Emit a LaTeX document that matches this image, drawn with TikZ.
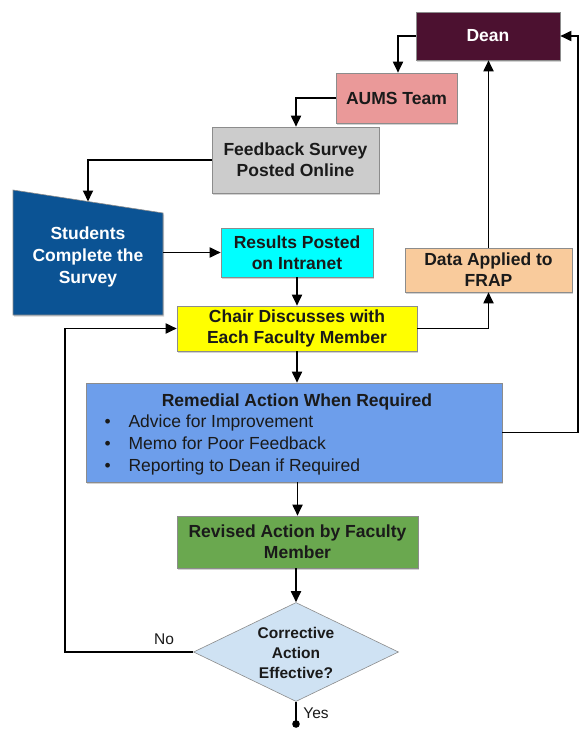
\documentclass[tikz,border=0pt]{standalone}
\usepackage{fontspec}
\setmainfont{Liberation Sans}
\usetikzlibrary{shapes.geometric,arrows.meta,shadows}

\definecolor{deanc}{HTML}{4C1130}
\definecolor{aumsc}{HTML}{EA9999}
\definecolor{surveyc}{HTML}{CCCCCC}
\definecolor{studc}{HTML}{0B5394}
\definecolor{resultc}{HTML}{00FFFF}
\definecolor{datac}{HTML}{F9CB9C}
\definecolor{chairc}{HTML}{FFFF00}
\definecolor{remc}{HTML}{6D9EEB}
\definecolor{revc}{HTML}{6AA84F}
\definecolor{checkc}{HTML}{CFE2F3}
\definecolor{inkc}{HTML}{1A1A1A}

\tikzset{
  box/.style={rectangle, draw=black!45, line width=0.6pt,
    font=\bfseries\fontsize{17.5}{21}\selectfont, text=inkc, align=center,
    inner sep=2pt,
    drop shadow={shadow xshift=1.2pt, shadow yshift=-1.6pt, opacity=0.35}},
  plain/.style={font=\fontsize{17.5}{22}\selectfont, text=inkc},
  link/.style={line width=1.8pt, draw=black, -{Triangle[length=11pt,width=10pt]}},
  line/.style={line width=1.8pt, draw=black},
}

\begin{document}
\begin{tikzpicture}[x=1pt,y=-1pt]
  \useasboundingbox[fill=white] (0,0) rectangle (581,730);

  % boxes
  \node[box, fill=deanc, text=white, minimum width=144pt, minimum height=48pt] (dean) at (488,36) {Dean};
  \node[box, fill=aumsc, minimum width=121pt, minimum height=50pt] (aums) at (396.5,98) {AUMS Team};
  \node[box, fill=surveyc, minimum width=167pt, minimum height=66pt] (survey) at (295.5,160) {Feedback Survey\\Posted Online};

  % students: manual input shape
  \path[fill=studc, draw=black!45, line width=0.6pt,
    drop shadow={shadow xshift=1.2pt, shadow yshift=-1.6pt, opacity=0.35}]
    (13,190) -- (163,213) -- (163,315) -- (13,315) -- cycle;
  \node[minimum width=150pt, minimum height=125pt, inner sep=0pt] (students) at (88,252.5) {};
  \coordinate (stutop) at (88,201.5);
  \node[font=\bfseries\fontsize{17.5}{22}\selectfont, text=white, align=center] (studtext) at (88,257) {Students\\Complete the\\Survey};

  \node[box, fill=resultc, minimum width=152pt, minimum height=49pt] (results) at (297,252.5) {Results Posted\\on Intranet};
  \node[box, fill=datac, minimum width=167pt, minimum height=44pt] (data) at (488.5,270) {Data Applied to\\FRAP};
  \node[box, fill=chairc, minimum width=240pt, minimum height=45pt] (chair) at (297,328.5) {Chair Discusses with\\Each Faculty Member};

  % remedial action box with its list
  \node[box, fill=remc, minimum width=416pt, minimum height=99pt] (remedial) at (294,432.5) {};
  \node[font=\bfseries\fontsize{17.5}{21}\selectfont, text=inkc] (remtitle) at (297,402) {Remedial Action When Required};
  \node[plain, anchor=west, align=left] (remlist) at (101,445)
    {\makebox[24pt][l]{\textbullet}Advice for Improvement\\
     \makebox[24pt][l]{\textbullet}Memo for Poor Feedback\\
     \makebox[24pt][l]{\textbullet}Reporting to Dean if Required};

  \node[box, fill=revc, minimum width=241pt, minimum height=52pt] (revised) at (297.5,542) {Revised Action by Faculty\\Member};

  % decision
  \node[diamond, draw=black!45, line width=0.6pt, fill=checkc, minimum width=205pt, minimum height=99pt, inner sep=0pt] (check) at (296,652) {};
  \node[font=\bfseries\fontsize{15.5}{20}\selectfont, text=inkc, align=center] (checktext) at (296,653) {Corrective\\Action\\Effective?};

  % connectors
  \draw[link] (dean.west) -| (aums.north -| 398,0);
  \draw[link] (aums.west) -| (survey.north -| 296,0);
  \draw[link] (survey.west) -| (stutop);
  \draw[link] (students.east) -- (results.west |- students.east);
  \draw[link] (results.south) -- (chair.north);
  \draw[link] (chair.east) -| (data.south);
  \draw[link] (data.north) -- (data.north |- dean.south);
  \draw[link] (chair.south) -- (chair.south |- remedial.north);
  \draw[link] (remedial.east) -- (578,432.5) |- (dean.east);
  \draw[link] (remedial.south -| revised.north) -- (revised.north);
  \draw[link] (revised.south -| check.north) -- (check.north);
  \draw[link] (check.west) -- (65,652) |- (chair.west);
  \coordinate (yesend) at (296,724);
  \draw[line] (check.south) -- (yesend);
  \fill (yesend) circle (3.8pt);

  \node[font=\fontsize{15.5}{18}\selectfont, text=inkc] (nolabel) at (164,639) {No};
  \node[font=\fontsize{15.5}{18}\selectfont, text=inkc] (yeslabel) at (316,713) {Yes};
\end{tikzpicture}
\end{document}
